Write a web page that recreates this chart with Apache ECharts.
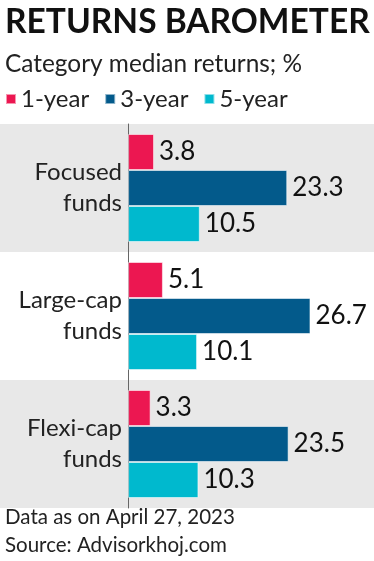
<!DOCTYPE html>
<html>
<head>
<meta charset="utf-8">
<script src="https://cdn.jsdelivr.net/npm/echarts@6/dist/echarts.min.js"></script>
<style>
html,body{margin:0;padding:0;background:#fff;}
#chart{width:374px;height:561px;}
</style>
</head>
<body>
<div id="chart"></div>
<script>
const categories = ['Focused\nfunds', 'Large-cap\nfunds', 'Flexi-cap\nfunds'];
const seriesNames = ['1-year', '3-year', '5-year'];
const oneYear = [3.8, 5.1, 3.3];
const threeYear = [23.3, 26.7, 23.5];
const fiveYear = [10.5, 10.1, 10.3];
const colors = ['#EC1751', '#035A8B', '#00B9CE'];

const FONT = 'Lato';
const chart = echarts.init(document.getElementById('chart'), null, {renderer: 'canvas'});

function barSeries(name, data, color) {
  return {
    name: name,
    type: 'bar',
    data: data,
    barWidth: 36,
    barGap: '0%',
    itemStyle: {color: color, borderColor: 'rgba(255,255,255,0.55)', borderWidth: 1},
    label: {
      show: true,
      position: 'right',
      distance: 5,
      fontFamily: FONT,
      fontSize: 26,
      color: '#111'
    },
    emphasis: {disabled: true},
    animation: false
  };
}

chart.setOption({
  animation: false,
  color: colors,
  title: [
    {text: 'RETURNS BAROMETER', left: 5, top: 5, padding: 0,
     textStyle: {fontFamily: FONT, fontSize: 33.5, fontWeight: 'bold', color: '#111'}},
    {text: 'Category median returns; %', left: 5, top: 52, padding: 0,
     textStyle: {fontFamily: FONT, fontSize: 24.4, fontWeight: 'normal', color: '#222'}},
    {text: 'Data as on April 27, 2023', left: 5, top: 507, padding: 0,
     textStyle: {fontFamily: FONT, fontSize: 20.5, fontWeight: 'normal', color: '#222'}},
    {text: 'Source: Advisorkhoj.com', left: 5, top: 535, padding: 0,
     textStyle: {fontFamily: FONT, fontSize: 20.5, fontWeight: 'normal', color: '#222'}}
  ],
  legend: {
    left: 5, top: 87, padding: 0,
    icon: 'rect', itemWidth: 10, itemHeight: 10, itemGap: 15,
    data: seriesNames,
    textStyle: {fontFamily: FONT, fontSize: 24, color: '#222', padding: [0, 0, 0, 0]},
    selectedMode: false
  },
  grid: {left: 0, right: 0, top: 124, height: 384, outerBoundsMode: 'none', containLabel: false},
  xAxis: {
    type: 'value', min: -18.75, max: 36,
    show: false, splitLine: {show: false}
  },
  yAxis: {
    type: 'category', inverse: true, data: categories,
    position: 'left', offset: -128,
    axisLine: {show: true, onZero: false, lineStyle: {color: '#666', width: 1}},
    axisTick: {show: false},
    axisLabel: {show: true, fontFamily: FONT, fontSize: 24, lineHeight: 31, color: '#222', align: 'right', margin: 6, hideOverlap: false},
    splitLine: {show: false},
    splitArea: {show: true, areaStyle: {color: ['#E8E8E8', '#FFFFFF']}}
  },
  series: [
    barSeries(seriesNames[0], oneYear, colors[0]),
    barSeries(seriesNames[1], threeYear, colors[1]),
    barSeries(seriesNames[2], fiveYear, colors[2])
  ]
});
</script>
</body>
</html>
